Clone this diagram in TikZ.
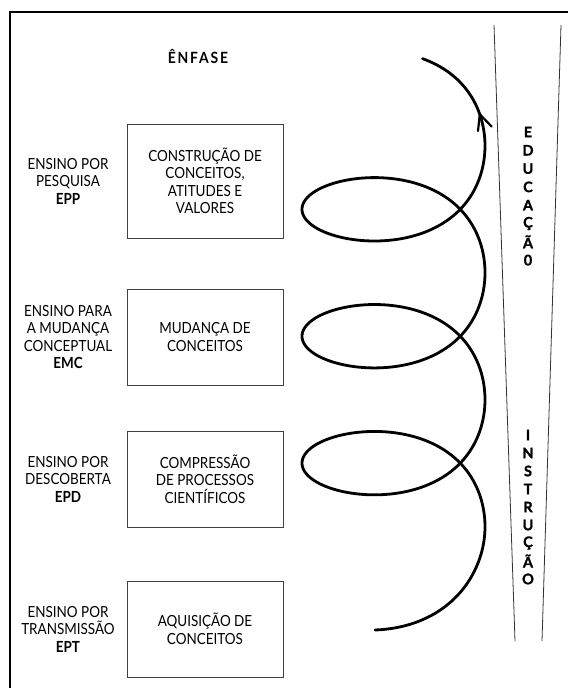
\documentclass[tikz,border=0pt]{standalone}
\usepackage{fontspec}
\setmainfont{Lato}
\begin{document}
\begin{tikzpicture}[x=1pt,y=-1pt,
  txt/.style={font=\fontsize{15.3}{17.5}\selectfont\addfontfeature{FakeStretch=0.88}, align=center, inner sep=0pt},
  boxnode/.style={draw=black!75, line width=0.9pt, minimum width=156pt, align=center,
    font=\fontsize{15.3}{17.5}\selectfont\addfontfeature{FakeStretch=0.88}},
  vletter/.style={font=\fontsize{14.5}{15}\selectfont\bfseries\addfontfeature{FakeBold=1.2}, inner sep=0pt},
  thinline/.style={draw=black!80, line width=0.8pt},
  spiral/.style={line width=2.8pt, line cap=round, line join=round}]
\useasboundingbox (0,0) rectangle (568,688);
\fill[white] (0,0) rectangle (568,688);
% frame
\draw[line width=2pt] (10,688) -- (10,12) -- (568,12);
% title
\node[font=\fontsize{15.5}{17}\selectfont\bfseries\addfontfeature{FakeStretch=0.9,LetterSpace=12}] (enf) at (198,56) {ÊNFASE};
% boxes
\node[boxnode, minimum height=114pt] (b1) at (205,181) {CONSTRUÇÃO DE\\CONCEITOS,\\ATITUDES E\\VALORES};
\node[boxnode, minimum height=96pt] (b2) at (205,337) {MUDANÇA DE\\CONCEITOS};
\node[boxnode, minimum height=96pt] (b3) at (205,479) {COMPRESSÃO\\DE PROCESSOS\\CIENTÍFICOS};
\node[boxnode, minimum height=96pt] (b4) at (205,629) {AQUISIÇÃO DE\\CONCEITOS};
% left labels
\node[txt] (l1) at (68,181) {ENSINO POR\\PESQUISA\\\textbf{EPP}};
\node[txt] (l2) at (68,337) {ENSINO PARA\\A MUDANÇA\\CONCEPTUAL\\\textbf{EMC}};
\node[txt] (l3) at (68,479) {ENSINO POR\\DESCOBERTA\\\textbf{EPD}};
\node[txt] (l4) at (68,629) {ENSINO POR\\TRANSMISSÃO\\\textbf{EPT}};
% converging lines
\coordinate (la) at (494,25); \coordinate (lb) at (515,641);
\coordinate (ra) at (561,25); \coordinate (rb) at (542,641);
\draw[thinline] (la) -- (lb);
\draw[thinline] (ra) -- (rb);
% vertical words
\foreach \l [count=\i] in {E,D,U,C,A,Ç,Ã,0}
  \node[vletter] (e\i) at (528,113.7+18.3*\i) {\l};
\foreach \l [count=\i] in {I,N,S,T,R,U,Ç,Ã,O}
  \node[vletter] (s\i) at (528,417+18*\i) {\l};
% spiral
\draw[spiral] (375,630) .. controls (430,628) and (470,597) .. (482.1,550.4)
  -- plot[domain=-0.3:20.25, samples=500, variable=\t]
  ({406.8+91.5*cos(\t r)-13.3*pow(cos(\t r),2)}, {526.6-20.2*\t-60*sin(\t r)});
% arrowhead
\draw[line width=2.2pt, line cap=round, line join=round] (478,131) -- (479.8,114.3) -- (491.6,126.5);
\end{tikzpicture}
\end{document}
